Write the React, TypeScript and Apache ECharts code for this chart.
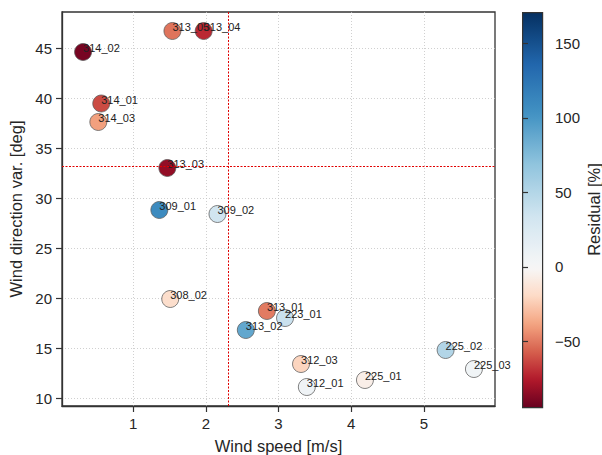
import React, { useEffect, useRef } from "react";
import * as echarts from "echarts";

// ---------- data ----------
const names = ["314_02", "313_05", "313_04", "314_01", "314_03", "313_03", "309_01", "309_02", "308_02", "313_01", "223_01", "313_02", "312_03", "312_01", "225_01", "225_02", "225_03"];
const windSpeed = [0.31, 1.54, 1.97, 0.56, 0.52, 1.47, 1.36, 2.16, 1.51, 2.84, 3.09, 2.55, 3.31, 3.39, 4.19, 5.3, 5.69];
const windDirVar = [44.65, 46.75, 46.75, 39.5, 37.65, 33.05, 28.85, 28.45, 19.95, 18.75, 18.05, 16.85, 13.45, 11.15, 11.85, 14.85, 12.95];
const residual = [-90, -51, -71, -62, -39, -83, 109, 34, -17, -49, 38, 89, -21, 7, -6, 51, 6];

const xTicks = [1, 2, 3, 4, 5];
const yTicks = [10, 15, 20, 25, 30, 35, 40, 45];
const cbarTicks = [-50, 0, 50, 100, 150];
const xRange = [0.02, 5.98];
const yRange = [9.25, 48.65];
const cbarRange = [-94, 171];
const thresholdSpeed = 2.31;
const thresholdDir = 33.25;

// ---------- colormap (RdBu, two-slope centred at 0) ----------
const RDBU = ["#67001f", "#b2182b", "#d6604d", "#f4a582", "#fddbc7", "#f7f7f7", "#d1e5f0", "#92c5de", "#4393c3", "#2166ac", "#053061"];
const hex = (h: string) => [1, 3, 5].map((i) => parseInt(h.slice(i, i + 2), 16));
function norm(v: number) {
  const [lo, hi] = cbarRange;
  if (v < 0) return Math.max(0, 0.5 * (1 - v / lo));
  return Math.min(1, 0.5 + (0.5 * v) / hi);
}
function cmap(v: number) {
  const t = norm(v) * (RDBU.length - 1);
  const i = Math.min(RDBU.length - 2, Math.floor(t));
  const f = t - i;
  const a = hex(RDBU[i]);
  const b = hex(RDBU[i + 1]);
  const c = a.map((x, k) => Math.round(x + (b[k] - x) * f));
  return `rgb(${c[0]},${c[1]},${c[2]})`;
}

const FONT = "Liberation Sans, Arial, sans-serif";
const TXT = "#262626";

export default function App() {
  const ref = useRef<HTMLDivElement>(null);
  useEffect(() => {
    document.body.style.margin = "0";
    if (!ref.current) return;
    const chart = echarts.init(ref.current, undefined, { renderer: "svg" });
    const data = names.map((n, i) => [windSpeed[i], windDirVar[i], residual[i], n]);
    const stops: { offset: number; color: string }[] = [];
    const N = 60;
    for (let k = 0; k <= N; k++) {
      const v = cbarRange[0] + ((cbarRange[1] - cbarRange[0]) * k) / N;
      stops.push({ offset: k / N, color: cmap(v) });
    }
    const gridLine = { show: true, lineStyle: { color: "#c4c4c4", type: [1, 2], width: 0.8 } };
    chart.setOption({
      animation: false,
      textStyle: { fontFamily: FONT },
      grid: [
        { left: 62, top: 12, width: 433, height: 394, show: true, borderColor: "#333", borderWidth: 1.3, outerBoundsMode: "none" },
        { left: 522, top: 12, width: 20, height: 395, show: false, outerBoundsMode: "none" },
      ],
      xAxis: [
        {
          type: "value", gridIndex: 0, min: xRange[0], max: xRange[1],
          name: "Wind speed [m/s]", nameLocation: "middle", nameGap: 31,
          nameTextStyle: { fontSize: 16.5, color: TXT, fontFamily: FONT },
          axisLine: { show: true, onZero: false, lineStyle: { color: "#333", width: 1.3 } },
          axisTick: { show: true, customValues: xTicks, length: 6, lineStyle: { color: "#333", width: 1.2 } },
          axisLabel: { customValues: xTicks, fontSize: 15, color: TXT, margin: 10, fontFamily: FONT },
          splitLine: gridLine,
        },
        { type: "value", gridIndex: 1, min: 0, max: 1, show: false },
      ],
      yAxis: [
        {
          type: "value", gridIndex: 0, min: yRange[0], max: yRange[1],
          name: "Wind direction var. [deg]", nameLocation: "middle", nameGap: 36, nameRotate: 90,
          nameTextStyle: { fontSize: 16.5, color: TXT, fontFamily: FONT },
          axisLine: { show: true, onZero: false, lineStyle: { color: "#333", width: 1.3 } },
          axisTick: { show: true, customValues: yTicks, length: 6, lineStyle: { color: "#333", width: 1.2 } },
          axisLabel: { customValues: yTicks, fontSize: 15, color: TXT, margin: 10, fontFamily: FONT },
          splitLine: gridLine,
        },
        {
          type: "value", gridIndex: 1, position: "right", min: cbarRange[0], max: cbarRange[1],
          name: "Residual [%]", nameLocation: "middle", nameGap: 43, nameRotate: 90,
          nameTextStyle: { fontSize: 16.5, color: TXT, fontFamily: FONT },
          axisLine: { show: false },
          axisTick: { show: true, customValues: cbarTicks, length: 6, lineStyle: { color: "#333", width: 1.2 } },
          axisLabel: {
            customValues: cbarTicks, fontSize: 15, color: TXT, margin: 13, fontFamily: FONT,
            formatter: (v: number) => (v < 0 ? "\u2212" + Math.abs(v) : String(v)),
          },
          splitLine: { show: false },
        },
      ],
      graphic: [
        {
          type: "rect", left: 522, top: 12, z: 0,
          shape: { width: 20, height: 395 },
          style: { fill: new echarts.graphic.LinearGradient(0, 1, 0, 0, stops), stroke: "#333", lineWidth: 1.2 },
        },
      ],
      series: [
        {
          type: "scatter", xAxisIndex: 0, yAxisIndex: 0, data: [], z: 1, silent: true,
          markLine: {
            silent: true, symbol: ["none", "none"], label: { show: false },
            lineStyle: { color: "#e00000", type: [2, 1.5], width: 1 },
            data: [{ xAxis: thresholdSpeed }, { yAxis: thresholdDir }],
          },
        },
        {
          type: "scatter", xAxisIndex: 0, yAxisIndex: 0, z: 3,
          data,
          encode: { x: 0, y: 1 },
          symbolSize: 17,
          itemStyle: {
            color: (p: any) => cmap(p.data[2]),
            borderColor: "rgba(90,90,90,0.75)", borderWidth: 1, opacity: 1,
          },
          label: {
            show: true, position: "inside", align: "left", verticalAlign: "middle", offset: [0, -4],
            formatter: (p: any) => p.data[3], fontSize: 11, color: "#222", fontFamily: FONT,
            textBorderWidth: 0,
          },
        },
      ],
    });
    return () => chart.dispose();
  }, []);
  return <div ref={ref} style={{ width: 602, height: 455 }} />;
}
